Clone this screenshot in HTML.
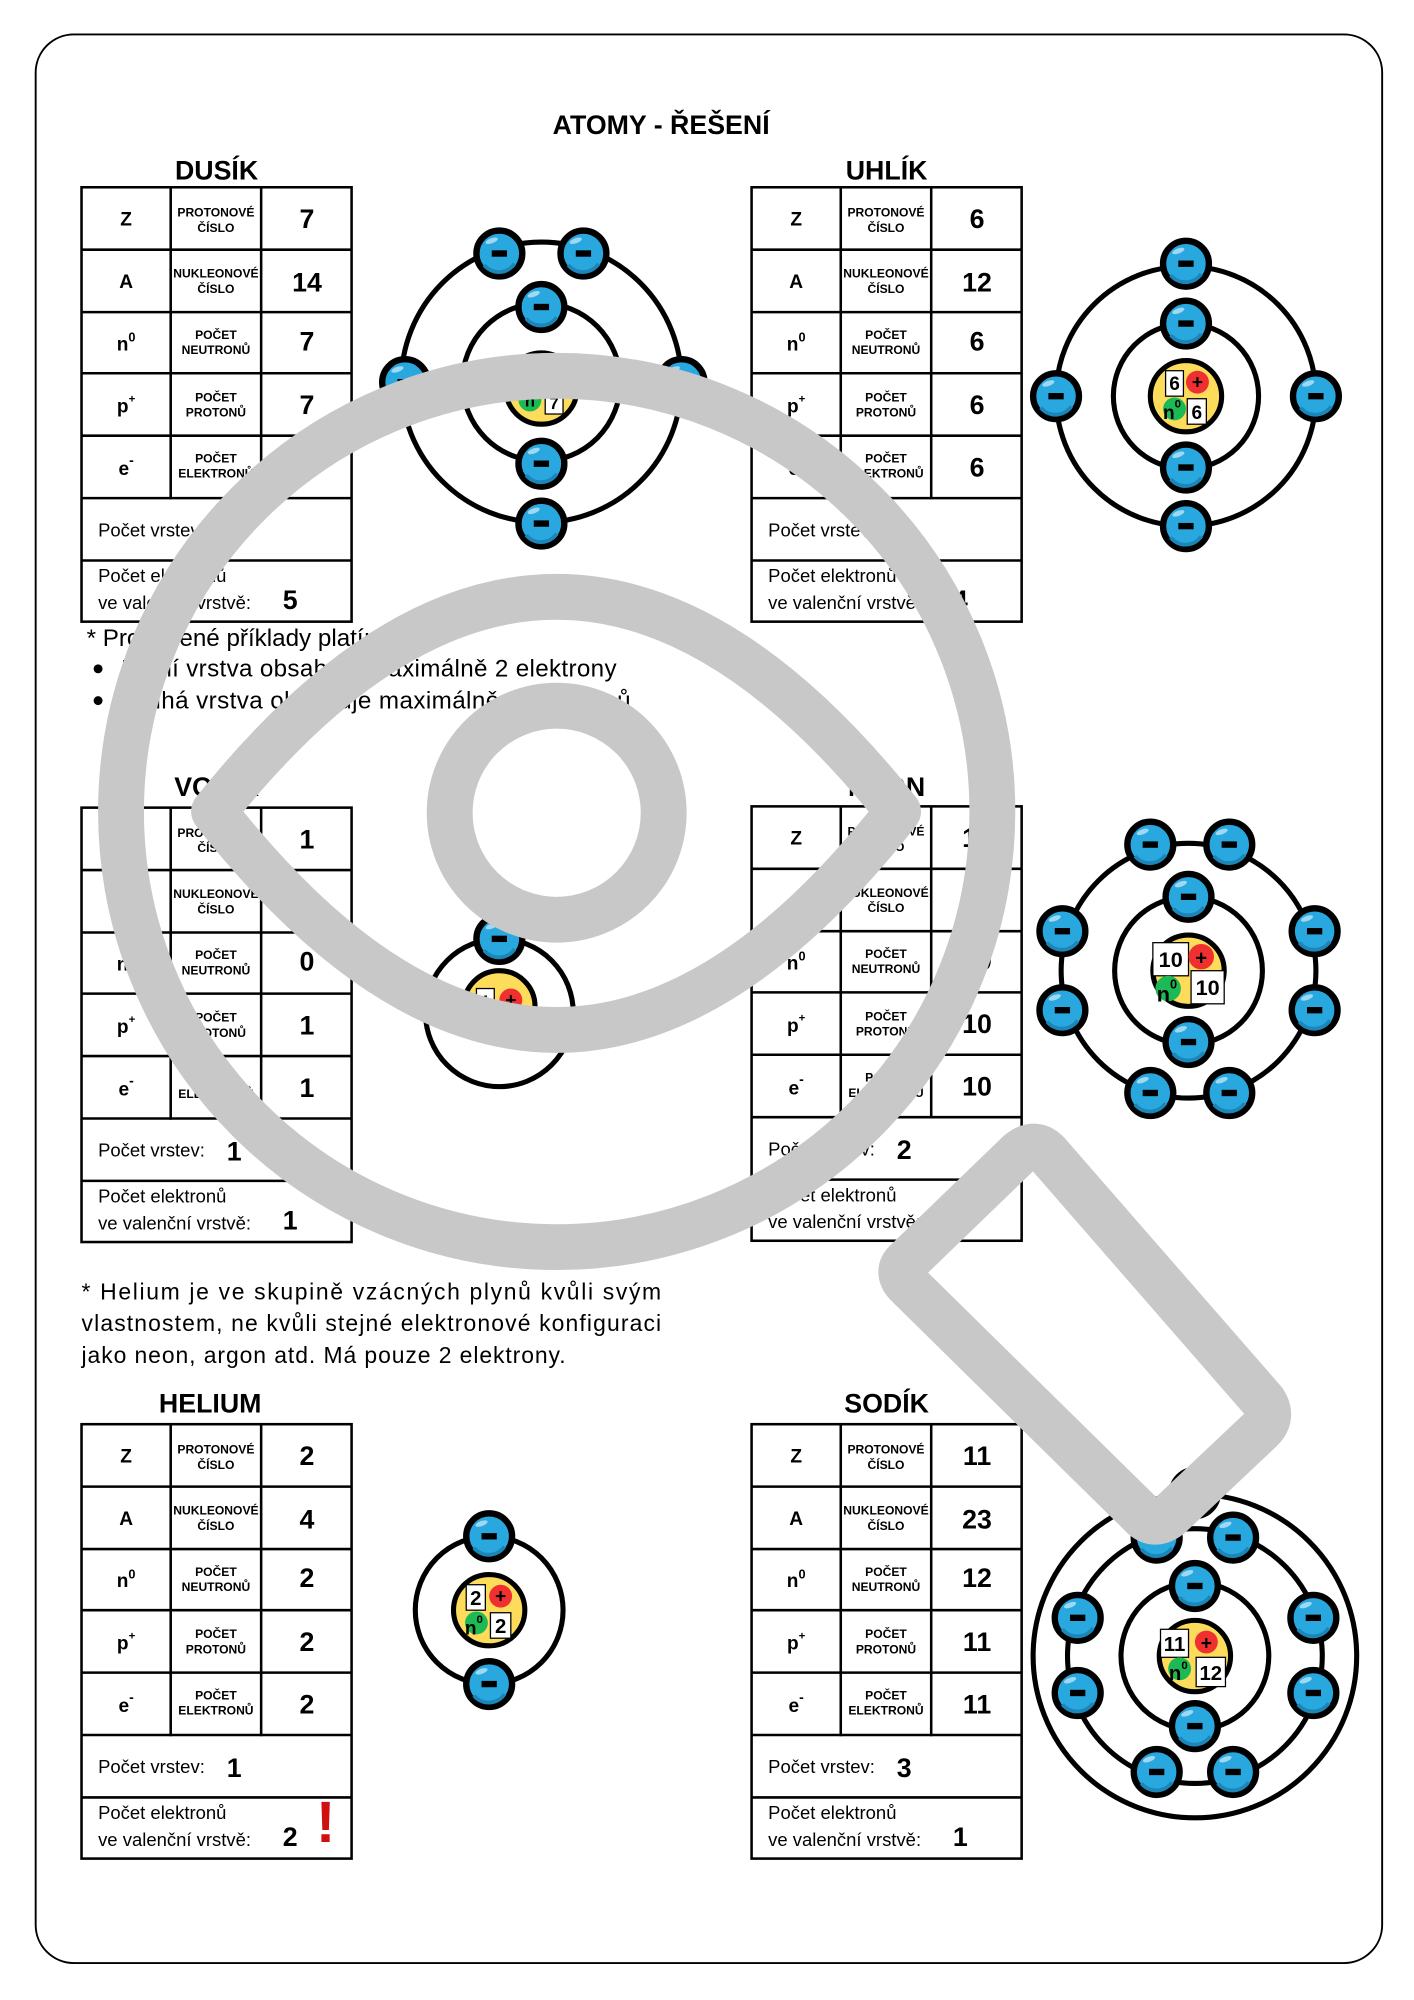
<!DOCTYPE html>
<html><head><meta charset="utf-8"><style>
html,body{margin:0;padding:0;background:#fff}
svg{display:block}
text{font-family:"Liberation Sans",sans-serif;fill:#000}
.b{font-weight:bold}
.lab{font-size:15px;font-weight:bold;text-anchor:middle}
.mid{font-size:9.5px;font-weight:bold;text-anchor:middle}
.val{font-size:21px;font-weight:bold;text-anchor:middle}
.bt{font-size:14.5px}
.bv{font-size:21px;font-weight:bold}
.ttl{font-size:21px;font-weight:bold;text-anchor:middle}
.note{font-size:18px}
.nb{font-size:13px;font-weight:bold;text-anchor:middle}
</style></head><body>
<svg width="1414" height="2000" viewBox="0 0 1110 1570" xmlns="http://www.w3.org/2000/svg">
<defs>
<g id="el"><circle r="18" fill="#29a8e0" stroke="#000" stroke-width="5"/><path d="M-12 9 A15 15 0 0 0 12 8" fill="none" stroke="#1c86b8" stroke-width="3"/><ellipse cx="-6" cy="-10" rx="5" ry="2" fill="#9fd8f2" transform="rotate(-20 -6 -10)"/><rect x="-6" y="-2.5" width="12" height="5" fill="#000"/></g>
<g id="tbl" fill="none" stroke="#000" stroke-width="2">
<rect x="0" y="0" width="212" height="341"/>
<line x1="70" y1="0" x2="70" y2="245"/><line x1="141" y1="0" x2="141" y2="245"/>
<line x1="0" y1="49" x2="212" y2="49"/><line x1="0" y1="98" x2="212" y2="98"/><line x1="0" y1="146" x2="212" y2="146"/><line x1="0" y1="195" x2="212" y2="195"/><line x1="0" y1="244" x2="212" y2="244"/><line x1="0" y1="293" x2="212" y2="293"/>
</g>
<g id="tt">
<text class="lab" x="35" y="30">Z</text>
<text class="lab" x="35" y="79">A</text>
<text class="lab" x="35" y="128">n<tspan font-size="10" dy="-7">0</tspan></text>
<text class="lab" x="35" y="177">p<tspan font-size="9" dy="-8">+</tspan></text>
<text class="lab" x="35" y="226">e<tspan font-size="11" dy="-8">-</tspan></text>
<text class="mid" x="105.5" y="23">PROTONOVÉ</text><text class="mid" x="105.5" y="35">ČÍSLO</text>
<text class="mid" x="105.5" y="71">NUKLEONOVÉ</text><text class="mid" x="105.5" y="83">ČÍSLO</text>
<text class="mid" x="105.5" y="119">POČET</text><text class="mid" x="105.5" y="131">NEUTRONŮ</text>
<text class="mid" x="105.5" y="168">POČET</text><text class="mid" x="105.5" y="180">PROTONŮ</text>
<text class="mid" x="105.5" y="216">POČET</text><text class="mid" x="105.5" y="228">ELEKTRONŮ</text>
<text class="bt" x="13" y="274">Počet vrstev:</text>
<text class="bt" x="13" y="310">Počet elektronů</text>
<text class="bt" x="13" y="331">ve valenční vrstvě:</text>
</g>
</defs>
<rect x="28" y="27" width="1057" height="1514" rx="30" fill="none" stroke="#000" stroke-width="1.5"/>
<text class="ttl" x="519" y="105" style="font-size:21px">ATOMY - ŘEŠENÍ</text>

<text class="ttl" x="170" y="141">DUSÍK</text>
<text class="ttl" x="696" y="141">UHLÍK</text>
<text class="ttl" x="170" y="625">VODÍK</text>
<text class="ttl" x="696" y="625">NEON</text>
<text class="ttl" x="165" y="1109">HELIUM</text>
<text class="ttl" x="696" y="1109">SODÍK</text>

<g transform="translate(64,147)"><use href="#tbl"/><use href="#tt"/>
<text class="val" x="177" y="32">7</text><text class="val" x="177" y="82">14</text><text class="val" x="177" y="128">7</text><text class="val" x="177" y="178">7</text><text class="val" x="177" y="227">7</text><text class="bv" x="112" y="277">2</text><text class="bv" x="158" y="331">5</text></g>
<g transform="translate(590,147)"><use href="#tbl"/><use href="#tt"/>
<text class="val" x="177" y="32">6</text><text class="val" x="177" y="82">12</text><text class="val" x="177" y="128">6</text><text class="val" x="177" y="178">6</text><text class="val" x="177" y="227">6</text><text class="bv" x="112" y="277">2</text><text class="bv" x="158" y="331">4</text></g>
<g transform="translate(64,634)"><use href="#tbl"/><use href="#tt"/>
<text class="val" x="177" y="32">1</text><text class="val" x="177" y="82">1</text><text class="val" x="177" y="128">0</text><text class="val" x="177" y="178">1</text><text class="val" x="177" y="227">1</text><text class="bv" x="114" y="277">1</text><text class="bv" x="158" y="331">1</text></g>
<g transform="translate(590,633)"><use href="#tbl"/><use href="#tt"/>
<text class="val" x="177" y="32">10</text><text class="val" x="177" y="82">20</text><text class="val" x="177" y="128">10</text><text class="val" x="177" y="178">10</text><text class="val" x="177" y="227">10</text><text class="bv" x="114" y="277">2</text><text class="bv" x="158" y="331">8</text></g>
<g transform="translate(64,1118)"><use href="#tbl"/><use href="#tt"/>
<text class="val" x="177" y="32">2</text><text class="val" x="177" y="82">4</text><text class="val" x="177" y="128">2</text><text class="val" x="177" y="178">2</text><text class="val" x="177" y="227">2</text><text class="bv" x="114" y="277">1</text><text class="bv" x="158" y="331">2</text>
<text x="184" y="328" style="font-size:46px;font-weight:bold;fill:#d01010">!</text></g>
<g transform="translate(590,1118)"><use href="#tbl"/><use href="#tt"/>
<text class="val" x="177" y="32">11</text><text class="val" x="177" y="82">23</text><text class="val" x="177" y="128">12</text><text class="val" x="177" y="178">11</text><text class="val" x="177" y="227">11</text><text class="bv" x="114" y="277">3</text><text class="bv" x="158" y="331">1</text></g>

<text class="note" x="68" y="507" style="font-size:19px">* Provedené příklady platí:</text>
<circle cx="77" cy="525" r="3.5"/><text class="note" x="95" y="531" style="font-size:19px" textLength="389" lengthAdjust="spacing">První vrstva obsahuje maximálně 2 elektrony</text>
<circle cx="77" cy="550" r="3.5"/><text class="note" x="95" y="556" style="font-size:19px" textLength="400" lengthAdjust="spacing">Druhá vrstva obsahuje maximálně 8 elektronů</text>

<text class="note" x="64" y="1020" textLength="455" lengthAdjust="spacing">* Helium je ve skupině vzácných plynů kvůli svým</text>
<text class="note" x="64" y="1045" textLength="455" lengthAdjust="spacing">vlastnostem, ne kvůli stejné elektronové konfiguraci</text>
<text class="note" x="64" y="1070" textLength="380" lengthAdjust="spacing">jako neon, argon atd. Má pouze 2 elektrony.</text>

<g fill="none" stroke="#000" stroke-width="4">
<circle cx="425" cy="300" r="62"/><circle cx="425" cy="300" r="110"/>
<circle cx="931" cy="311" r="57"/><circle cx="931" cy="311" r="102"/>
<circle cx="392" cy="795" r="58"/>
<circle cx="933" cy="762" r="58"/><circle cx="933" cy="762" r="100"/>
<circle cx="384" cy="1264" r="58"/>
<circle cx="938" cy="1300" r="58"/><circle cx="938" cy="1300" r="100"/><circle cx="938" cy="1300" r="127"/>
</g>

<g transform="translate(425,305)"><circle r="28" fill="#fddc5c" stroke="#000" stroke-width="4"/><circle cx="-9" cy="9" r="9" fill="#1db954"/><text class="nb" x="-9" y="14">n</text><rect x="3" y="2" width="14" height="18" fill="#fff" stroke="#000"/><text class="nb" x="10" y="16">7</text></g>
<g transform="translate(931,311)"><circle r="28" fill="#fddc5c" stroke="#000" stroke-width="4"/><rect x="-16" y="-20" width="14" height="20" fill="#fff" stroke="#000"/><text class="nb" x="-9" y="-5" style="font-size:15px">6</text><circle cx="9" cy="-11" r="9" fill="#f03030"/><text class="nb" x="9" y="-6" style="font-size:15px">+</text><circle cx="-9" cy="10" r="9" fill="#1db954"/><text class="nb" x="-11" y="18" style="font-size:15px">n<tspan font-size="9" dy="-9">0</tspan></text><rect x="1" y="2" width="15" height="20" fill="#fff" stroke="#000"/><text class="nb" x="8.5" y="18" style="font-size:15px">6</text></g>
<g transform="translate(392,790)"><circle r="28" fill="#fddc5c" stroke="#000" stroke-width="4"/><rect x="-18" y="-14" width="14" height="18" fill="#fff" stroke="#000"/><text class="nb" x="-11" y="1" style="font-size:14px">1</text><circle cx="9" cy="-5" r="9" fill="#f03030"/><text class="nb" x="9" y="0" style="font-size:15px">+</text></g>
<g transform="translate(933,762)"><circle r="28" fill="#fddc5c" stroke="#000" stroke-width="4"/><rect x="-28" y="-22" width="28" height="26" fill="#fff" stroke="#000"/><text class="nb" x="-14" y="-3" style="font-size:17px">10</text><circle cx="10" cy="-11" r="10" fill="#f03030"/><text class="nb" x="10" y="-5" style="font-size:16px">+</text><circle cx="-16" cy="14" r="10" fill="#1db954"/><text class="nb" x="-17" y="24" style="font-size:17px">n<tspan font-size="10" dy="-10">0</tspan></text><rect x="2" y="0" width="26" height="26" fill="#fff" stroke="#000"/><text class="nb" x="15" y="19" style="font-size:17px">10</text></g>
<g transform="translate(384,1264)"><circle r="28" fill="#fddc5c" stroke="#000" stroke-width="4"/><rect x="-18" y="-20" width="15" height="20" fill="#fff" stroke="#000"/><text class="nb" x="-10.5" y="-4" style="font-size:16px">2</text><circle cx="9" cy="-11" r="9" fill="#f03030"/><text class="nb" x="9" y="-6" style="font-size:15px">+</text><circle cx="-10" cy="10" r="9" fill="#1db954"/><text class="nb" x="-12" y="19" style="font-size:15px">n<tspan font-size="9" dy="-9">0</tspan></text><rect x="1" y="2" width="16" height="20" fill="#fff" stroke="#000"/><text class="nb" x="9" y="18" style="font-size:16px">2</text></g>
<g transform="translate(938,1300)"><circle r="28" fill="#fddc5c" stroke="#000" stroke-width="4"/><rect x="-27" y="-21" width="22" height="22" fill="#fff" stroke="#000"/><text class="nb" x="-16" y="-4" style="font-size:16px">11</text><circle cx="9" cy="-11" r="9" fill="#f03030"/><text class="nb" x="9" y="-5" style="font-size:15px">+</text><circle cx="-12" cy="10" r="9" fill="#1db954"/><text class="nb" x="-13" y="19" style="font-size:16px">n<tspan font-size="9" dy="-9">0</tspan></text><rect x="1" y="1" width="23" height="23" fill="#fff" stroke="#000"/><text class="nb" x="12.5" y="19" style="font-size:16px">12</text></g>

<use href="#el" x="392" y="199"/><use href="#el" x="458" y="199"/><use href="#el" x="318" y="300"/><use href="#el" x="535" y="300"/><use href="#el" x="425" y="411"/><use href="#el" x="425" y="241"/><use href="#el" x="425" y="364"/>
<use href="#el" x="931" y="207"/><use href="#el" x="931" y="254"/><use href="#el" x="931" y="367"/><use href="#el" x="931" y="413"/><use href="#el" x="829" y="311"/><use href="#el" x="1033" y="311"/>
<use href="#el" x="392" y="737"/>
<use href="#el" x="903" y="663"/><use href="#el" x="965" y="663"/><use href="#el" x="834" y="731"/><use href="#el" x="834" y="793"/><use href="#el" x="1032" y="731"/><use href="#el" x="1032" y="793"/><use href="#el" x="903" y="858"/><use href="#el" x="965" y="858"/><use href="#el" x="933" y="704"/><use href="#el" x="933" y="818"/>
<use href="#el" x="384" y="1206"/><use href="#el" x="384" y="1322"/>
<use href="#el" x="938" y="1245"/><use href="#el" x="938" y="1355"/><use href="#el" x="908" y="1207"/><use href="#el" x="968" y="1207"/><use href="#el" x="846" y="1270"/><use href="#el" x="846" y="1329"/><use href="#el" x="1031" y="1270"/><use href="#el" x="1031" y="1329"/><use href="#el" x="908" y="1391"/><use href="#el" x="968" y="1391"/><use href="#el" x="938" y="1172"/>

<g fill="none" stroke="#c8c8c8" stroke-width="36" stroke-linejoin="round" stroke-linecap="round">
<circle cx="437" cy="637" r="342"/>
<path d="M168 637 Q437 300 705 637 Q437 980 168 637 Z"/>
<circle cx="437" cy="638" r="84"/>
<path d="M712 990 L800 905 Q812 895 822 905 L992 1100 Q1000 1112 990 1122 L918 1190 Q905 1200 895 1188 L712 1008 Q703 998 712 990 Z"/>
</g>
</svg>
</body></html>
